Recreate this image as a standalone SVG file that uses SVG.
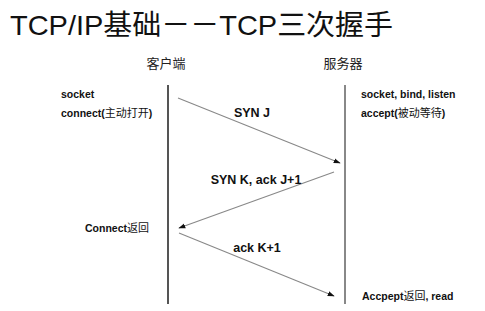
<svg xmlns="http://www.w3.org/2000/svg" width="485" height="311" viewBox="0 0 485 311">
<defs>
<marker id="ah" viewBox="0 0 10 10" refX="9" refY="5" markerWidth="7" markerHeight="7" orient="auto" markerUnits="userSpaceOnUse">
<path d="M0,1.5 L10,5 L0,8.5 Z" fill="#111"/>
</marker>
<style>
.t{font-family:"Liberation Sans","Noto Sans CJK SC",sans-serif;fill:#111}
.lbl{font-size:10.5px;font-weight:bold}
.cj{font-weight:normal;font-size:11px}
.msg{font-size:12.5px;font-weight:bold;text-anchor:middle}
.hd{font-size:13px;fill:#222;font-family:"Noto Sans CJK SC",sans-serif;font-weight:normal}
.life{stroke-width:2;fill:none}
.arr{stroke:#888;stroke-width:1.1;fill:none;marker-end:url(#ah)}
</style>
</defs>
<rect width="485" height="311" fill="#fff"/>
<text id="title" class="t" x="10" y="35" font-size="28.5" textLength="383" lengthAdjust="spacingAndGlyphs">TCP/IP基础－－TCP三次握手</text>
<g id="client">
<text class="hd" x="166" y="68" text-anchor="middle">客户端</text>
<line class="life" x1="168" y1="85" x2="168" y2="304" stroke="#555"/>
<text class="t lbl" x="61" y="98">socket</text>
<text class="t lbl" x="61" y="117">connect(<tspan class="cj">主动打开</tspan>)</text>
<text class="t lbl" x="85" y="232">Connect<tspan class="cj">返回</tspan></text>
</g>
<g id="server">
<text class="hd" x="343" y="68" text-anchor="middle">服务器</text>
<line class="life" x1="345" y1="85" x2="345" y2="304" stroke="#888"/>
<text class="t lbl" x="361" y="98">socket, bind, listen</text>
<text class="t lbl" x="361" y="117">accept(<tspan class="cj">被动等待</tspan>)</text>
<text class="t lbl" x="362" y="300">Accpept<tspan class="cj">返回</tspan>, read</text>
</g>
<g id="connectors">
<line class="arr" x1="178" y1="98" x2="340" y2="163"/>
<line class="arr" x1="334" y1="172" x2="179" y2="228"/>
<line class="arr" x1="179" y1="233" x2="334" y2="296"/>
<text class="t msg" x="252" y="117">SYN J</text>
<text class="t msg" x="256" y="184">SYN K, ack J+1</text>
<text class="t msg" x="257" y="252">ack K+1</text>
</g>
</svg>
